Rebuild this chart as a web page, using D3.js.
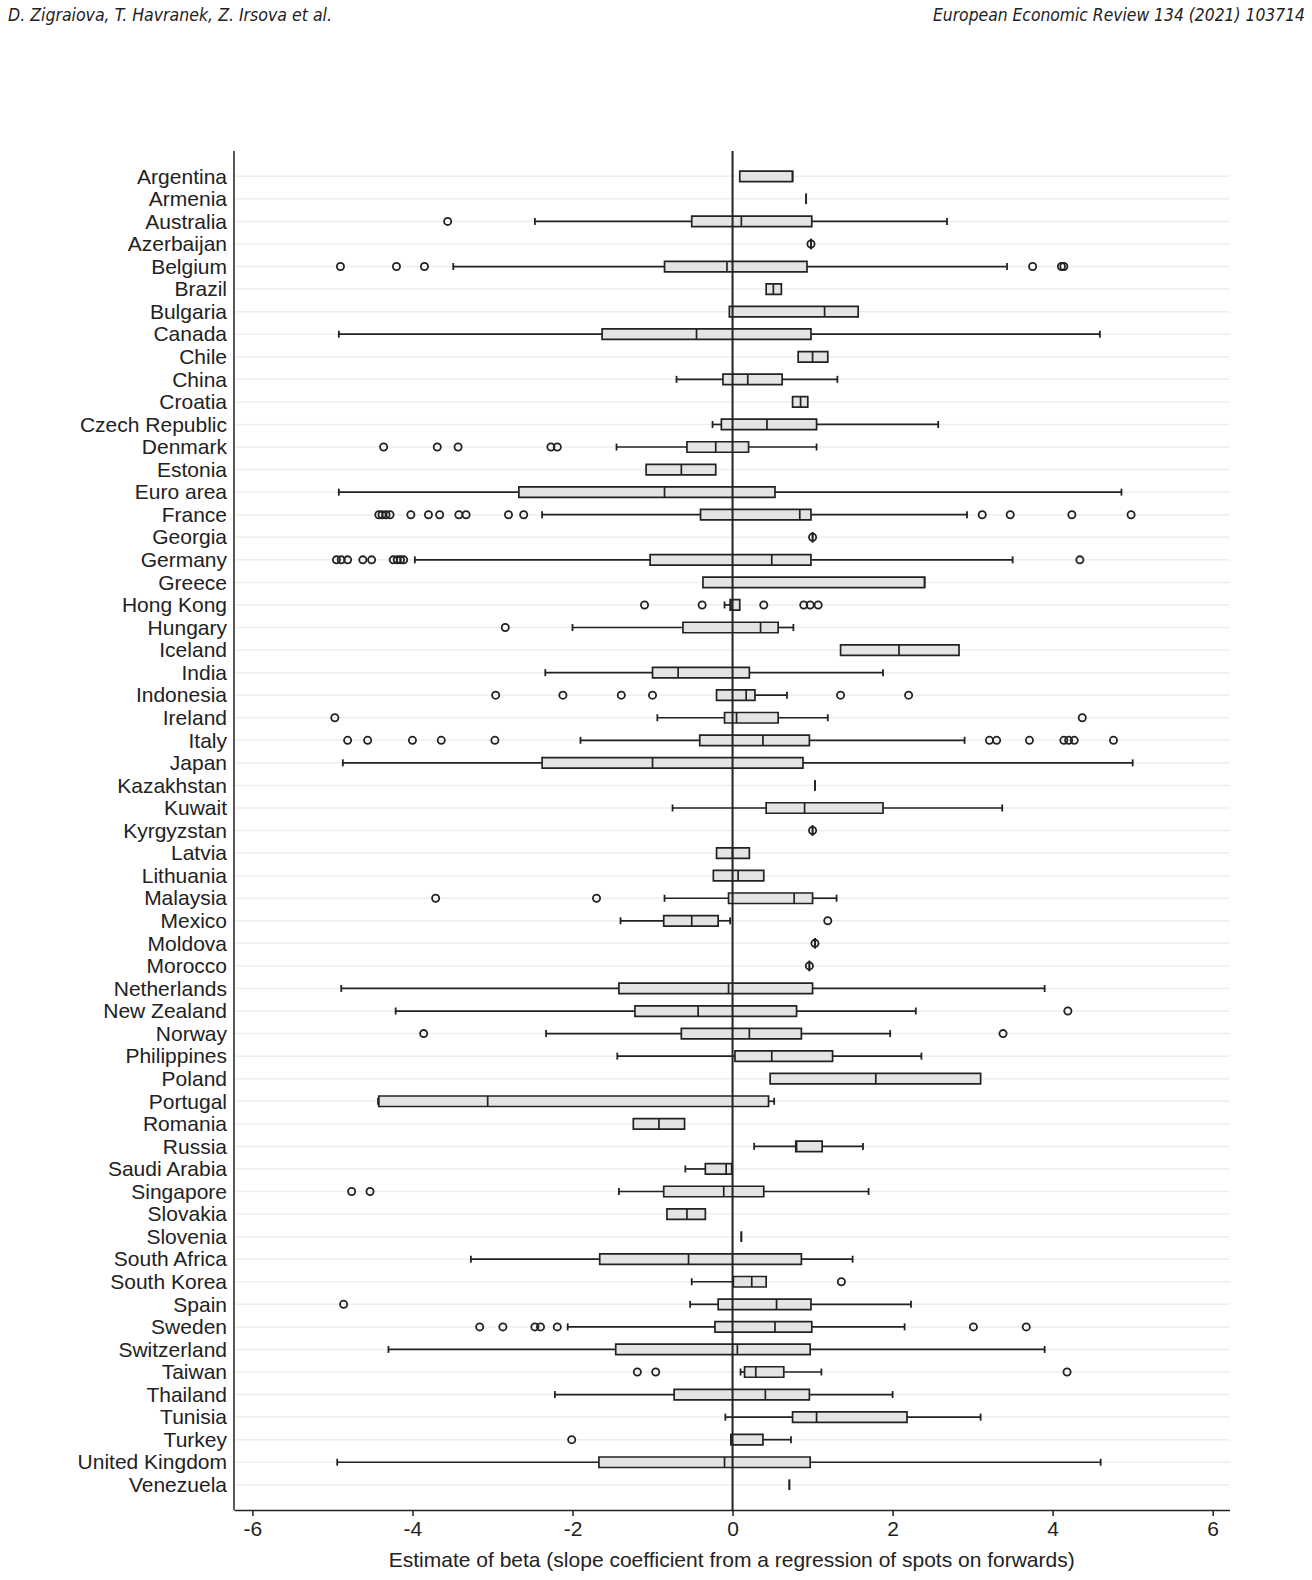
<!DOCTYPE html>
<html>
<head>
<meta charset="utf-8">
<script src="https://cdn.jsdelivr.net/npm/d3@7/dist/d3.min.js"></script>
<style>
body { margin: 0; background: #fff; }
svg { display: block; }
</style>
</head>
<body>
<svg id="chart" width="1312" height="1580"></svg>
<script>
// box plot of beta estimates per country

const countries = [
    'Argentina', 'Armenia', 'Australia', 'Azerbaijan', 'Belgium', 'Brazil', 'Bulgaria',
    'Canada', 'Chile', 'China', 'Croatia', 'Czech Republic', 'Denmark', 'Estonia',
    'Euro area', 'France', 'Georgia', 'Germany', 'Greece', 'Hong Kong', 'Hungary',
    'Iceland', 'India', 'Indonesia', 'Ireland', 'Italy', 'Japan', 'Kazakhstan',
    'Kuwait', 'Kyrgyzstan', 'Latvia', 'Lithuania', 'Malaysia', 'Mexico', 'Moldova',
    'Morocco', 'Netherlands', 'New Zealand', 'Norway', 'Philippines', 'Poland',
    'Portugal', 'Romania', 'Russia', 'Saudi Arabia', 'Singapore', 'Slovakia',
    'Slovenia', 'South Africa', 'South Korea', 'Spain', 'Sweden', 'Switzerland',
    'Taiwan', 'Thailand', 'Tunisia', 'Turkey', 'United Kingdom', 'Venezuela'
];

const q1_values = [
    0.09, 0.92, -0.51, 0.98, -0.85, 0.42, -0.04, -1.63, 0.82, -0.12,
    0.75, -0.14, -0.57, -1.08, -2.67, -0.40, 1.00, -1.03, -0.37, -0.03,
    -0.62, 1.35, -1.00, -0.20, -0.10, -0.41, -2.38, 1.03, 0.42, 1.00,
    -0.20, -0.24, -0.05, -0.86, 1.03, 0.96, -1.42, -1.22, -0.64, 0.03,
    0.47, -4.42, -1.24, 0.79, -0.34, -0.86, -0.82, 0.11, -1.66, 0.01,
    -0.18, -0.22, -1.46, 0.15, -0.73, 0.75, -0.02, -1.67, 0.71
];

const median_values = [
    0.75, 0.92, 0.11, 0.98, -0.07, 0.51, 1.15, -0.45, 1.00, 0.19,
    0.85, 0.43, -0.21, -0.64, -0.85, 0.84, 1.00, 0.49, 2.40, -0.02,
    0.35, 2.08, -0.68, 0.17, 0.05, 0.38, -1.00, 1.03, 0.90, 1.00,
    0.00, 0.07, 0.77, -0.51, 1.03, 0.96, -0.05, -0.43, 0.21, 0.49,
    1.79, -3.06, -0.92, 0.80, -0.08, -0.11, -0.57, 0.11, -0.55, 0.24,
    0.55, 0.53, 0.06, 0.29, 0.41, 1.05, -0.02, -0.10, 0.71
];

const q3_values = [
    0.75, 0.92, 0.99, 0.98, 0.93, 0.61, 1.57, 0.98, 1.19, 0.62,
    0.94, 1.05, 0.20, -0.21, 0.53, 0.98, 1.00, 0.98, 2.40, 0.09,
    0.57, 2.83, 0.21, 0.28, 0.57, 0.96, 0.88, 1.03, 1.88, 1.00,
    0.21, 0.39, 1.00, -0.18, 1.03, 0.96, 1.00, 0.80, 0.86, 1.25,
    3.10, 0.45, -0.60, 1.12, -0.01, 0.39, -0.34, 0.11, 0.86, 0.42,
    0.98, 0.99, 0.97, 0.64, 0.96, 2.18, 0.38, 0.97, 0.71
];

const whisker_low = [
    0.09, 0.92, -2.47, 0.98, -3.49, 0.42, -0.04, -4.92, 0.82, -0.70,
    0.75, -0.25, -1.45, -1.08, -4.92, -2.38, 1.00, -3.97, -0.37, -0.10,
    -2.00, 1.35, -2.34, -0.20, -0.94, -1.90, -4.87, 1.03, -0.75, 1.00,
    -0.20, -0.24, -0.85, -1.40, 1.03, 0.96, -4.89, -4.21, -2.33, -1.44,
    0.47, -4.43, -1.24, 0.27, -0.59, -1.42, -0.82, 0.11, -3.27, -0.51,
    -0.53, -2.06, -4.30, 0.10, -2.22, -0.09, -0.02, -4.94, 0.71
];

const whisker_high = [
    0.75, 0.92, 2.68, 0.98, 3.43, 0.61, 1.57, 4.59, 1.19, 1.31,
    0.94, 2.57, 1.05, -0.21, 4.86, 2.93, 1.00, 3.50, 2.40, 0.09,
    0.76, 2.83, 1.88, 0.68, 1.19, 2.90, 5.00, 1.03, 3.37, 1.00,
    0.21, 0.39, 1.30, -0.03, 1.03, 0.96, 3.90, 2.29, 1.97, 2.36,
    3.10, 0.52, -0.60, 1.63, -0.01, 1.70, -0.34, 0.11, 1.50, 0.42,
    2.23, 2.15, 3.90, 1.11, 2.00, 3.10, 0.73, 4.60, 0.71
];

const outlier_values = [
    [], [], [-3.56], [0.98],
    [-4.90, -4.20, -3.85, 3.75, 4.11, 4.14],
    [], [], [], [], [], [], [],
    [-4.36, -3.69, -3.43, -2.27, -2.19],
    [], [],
    [-4.42, -4.38, -4.33, -4.28, -4.02, -3.80, -3.66, -3.42, -3.33, -2.80, -2.61, 3.12, 3.47, 4.24, 4.98],
    [1.00],
    [-4.95, -4.89, -4.81, -4.62, -4.51, -4.24, -4.19, -4.15, -4.11, 4.34],
    [],
    [-1.10, -0.38, 0.39, 0.89, 0.97, 1.07],
    [-2.84],
    [], [],
    [-2.96, -2.12, -1.39, -1.00, 1.35, 2.20],
    [-4.97, 4.37],
    [-4.81, -4.56, -4.00, -3.64, -2.97, 3.21, 3.30, 3.71, 4.14, 4.20, 4.27, 4.76],
    [], [], [],
    [1.00],
    [], [],
    [-3.71, -1.70],
    [1.19],
    [1.03],
    [0.96],
    [],
    [4.19],
    [-3.86, 3.38],
    [], [], [], [], [], [],
    [-4.76, -4.53],
    [], [], [],
    [1.36],
    [-4.86],
    [-3.16, -2.87, -2.47, -2.40, -2.19, 3.01, 3.67],
    [],
    [-1.19, -0.96, 4.18],
    [], [],
    [-2.01],
    [], []
];

const x_ticks = [-6, -4, -2, 0, 2, 4, 6];
const x_title = 'Estimate of beta (slope coefficient from a regression of spots on forwards)';
const header_left = 'D. Zigraiova, T. Havranek, Z. Irsova et al.';
const header_right = 'European Economic Review 134 (2021) 103714';

const plot = { left: 234, right: 1229.5, top: 151, bottom: 1510 };
const BOX_H = 10.5;
const CAP_H = 7;
const INK = '#222';
const LABEL_FONT = '"Liberation Sans", Arial, sans-serif';

const svg = d3.select('#chart');

const x = d3.scaleLinear()
    .domain([-6.23, 6.21])
    .range([plot.left, plot.right]);

const y = d3.scalePoint()
    .domain(countries)
    .range([176.3, 1484.8]);

const rows = countries.map((c, i) => ({
    country: c,
    q1: q1_values[i],
    med: median_values[i],
    q3: q3_values[i],
    lo: whisker_low[i],
    hi: whisker_high[i]
}));

const outliers = [];
countries.forEach((c, i) => {
    outlier_values[i].forEach(v => outliers.push({ country: c, value: v }));
});

// header line of the journal page
svg.append('text')
    .text(header_left)
    .attr('x', 8)
    .attr('y', 21)
    .attr('textLength', 324)
    .attr('lengthAdjust', 'spacingAndGlyphs')
    .style('font-family', '"Liberation Sans Narrow", "DejaVu Sans Condensed", sans-serif')
    .style('font-style', 'italic')
    .style('font-size', '17px')
    .style('fill', '#222')
;
svg.append('text')
    .text(header_right)
    .attr('x', 1305)
    .attr('y', 21)
    .attr('text-anchor', 'end')
    .attr('textLength', 372)
    .attr('lengthAdjust', 'spacingAndGlyphs')
    .style('font-family', '"Liberation Sans Narrow", "DejaVu Sans Condensed", sans-serif')
    .style('font-style', 'italic')
    .style('font-size', '17px')
    .style('fill', '#222')
;

// light row gridlines
svg.append('g')
    .selectAll('line')
    .data(countries)
    .join('line')
    .attr('x1', plot.left)
    .attr('x2', plot.right)
    .attr('y1', d => y(d))
    .attr('y2', d => y(d))
    .attr('stroke', '#eeeeee')
    .attr('stroke-width', 1.5)
;

// whiskers
const g_box = svg.append('g');
g_box.selectAll('line.wlo')
    .data(rows.filter(d => d.lo < d.q1))
    .join('line')
    .attr('class', 'wlo')
    .attr('x1', d => x(d.lo))
    .attr('x2', d => x(d.q1))
    .attr('y1', d => y(d.country))
    .attr('y2', d => y(d.country))
    .attr('stroke', INK)
    .attr('stroke-width', 1.7)
;
g_box.selectAll('line.whi')
    .data(rows.filter(d => d.hi > d.q3))
    .join('line')
    .attr('class', 'whi')
    .attr('x1', d => x(d.q3))
    .attr('x2', d => x(d.hi))
    .attr('y1', d => y(d.country))
    .attr('y2', d => y(d.country))
    .attr('stroke', INK)
    .attr('stroke-width', 1.7)
;
// whisker caps
const caps = [];
rows.forEach(d => {
    if (d.lo < d.q1) caps.push({ country: d.country, v: d.lo });
    if (d.hi > d.q3) caps.push({ country: d.country, v: d.hi });
});
g_box.selectAll('line.cap')
    .data(caps)
    .join('line')
    .attr('class', 'cap')
    .attr('x1', d => x(d.v))
    .attr('x2', d => x(d.v))
    .attr('y1', d => y(d.country) - CAP_H / 2)
    .attr('y2', d => y(d.country) + CAP_H / 2)
    .attr('stroke', INK)
    .attr('stroke-width', 1.8)
;

// boxes (path so that zero-width boxes still show as a line)
g_box.selectAll('path.box')
    .data(rows)
    .join('path')
    .attr('class', 'box')
    .attr('d', d => {
        const cy = y(d.country);
        const x1 = x(d.q1), x2 = x(d.q3);
        return 'M' + x1 + ',' + (cy - BOX_H / 2) +
            'H' + x2 + 'V' + (cy + BOX_H / 2) +
            'H' + x1 + 'Z';
    })
    .attr('fill', '#e4e4e4')
    .attr('stroke', INK)
    .attr('stroke-width', 1.7)
;
// medians
g_box.selectAll('line.med')
    .data(rows)
    .join('line')
    .attr('class', 'med')
    .attr('x1', d => x(d.med))
    .attr('x2', d => x(d.med))
    .attr('y1', d => y(d.country) - BOX_H / 2)
    .attr('y2', d => y(d.country) + BOX_H / 2)
    .attr('stroke', INK)
    .attr('stroke-width', 1.7)
;

// vertical reference line at zero, on top of the boxes
svg.append('line')
    .attr('x1', x(0))
    .attr('x2', x(0))
    .attr('y1', plot.top)
    .attr('y2', plot.bottom)
    .attr('stroke', INK)
    .attr('stroke-width', 2)
;

// outliers
svg.append('g')
    .selectAll('circle')
    .data(outliers)
    .join('circle')
    .attr('cx', d => x(d.value))
    .attr('cy', d => y(d.country))
    .attr('r', 3.6)
    .attr('fill', 'none')
    .attr('stroke', INK)
    .attr('stroke-width', 1.8)
;

// y axis: country names
const y_axis = svg.append('g')
    .attr('transform', 'translate(' + plot.left + ',0)')
    .call(d3.axisLeft(y).tickSize(0).tickPadding(7))
;
y_axis.select('.domain').remove();
y_axis.selectAll('text')
    .style('font-family', LABEL_FONT)
    .style('font-size', '21px')
    .style('fill', '#222')
;
svg.append('line')
    .attr('x1', plot.left)
    .attr('x2', plot.left)
    .attr('y1', plot.top)
    .attr('y2', plot.bottom)
    .attr('stroke', INK)
    .attr('stroke-width', 1.5)
;

// x axis
const x_axis = svg.append('g')
    .attr('transform', 'translate(0,' + plot.bottom + ')')
    .call(
        d3.axisBottom(x)
            .tickValues(x_ticks)
            .tickFormat(d => String(d))
            .tickSize(6)
            .tickSizeOuter(0)
            .tickPadding(5)
    )
;
x_axis.select('.domain')
    .attr('stroke', INK)
    .attr('stroke-width', 1.5)
;
x_axis.selectAll('.tick line')
    .attr('stroke', INK)
    .attr('stroke-width', 1.5)
;
x_axis.selectAll('text')
    .style('font-family', LABEL_FONT)
    .style('font-size', '21px')
    .style('fill', '#222')
;

svg.append('text')
    .text(x_title)
    .attr('x', (plot.left + plot.right) / 2)
    .attr('y', 1567)
    .attr('text-anchor', 'middle')
    .style('font-family', LABEL_FONT)
    .style('font-size', '21px')
    .style('fill', '#222')
;
</script>
</body>
</html>
